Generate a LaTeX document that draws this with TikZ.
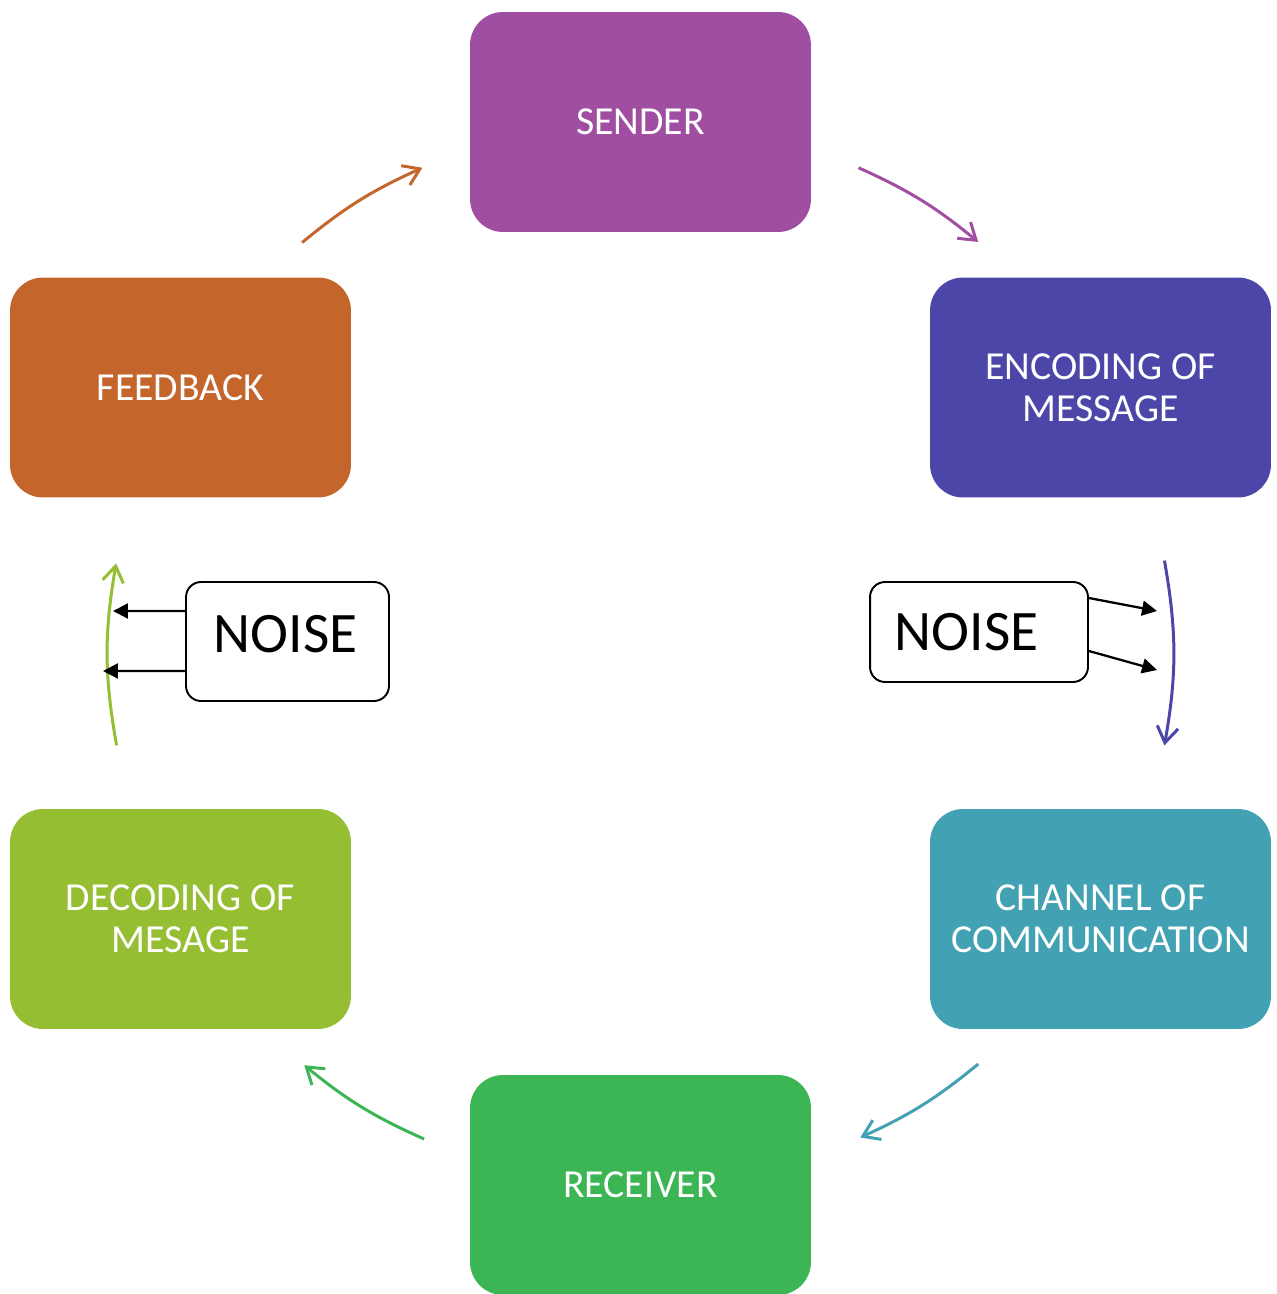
\documentclass[tikz,border=0pt]{standalone}
\usepackage{fontspec}
\setmainfont{Carlito}
\usepackage{tikz}
\usetikzlibrary{
  arrows.meta,
  positioning,
  calc
}
\definecolor{senderpurple}{HTML}{A04EA2}
\definecolor{encodeblue}{HTML}{4B46A8}
\definecolor{channelteal}{HTML}{42A1B2}
\definecolor{receivergreen}{HTML}{3CB554}
\definecolor{decodelime}{HTML}{95BE33}
\definecolor{feedbackorange}{HTML}{C4652C}
\tikzset{
  stage/.style={
    rectangle, fill=#1, rounded corners=0.66cm,
    minimum width=6.82cm, minimum height=4.4cm, inner sep=0pt,
    font=\fontsize{22.6}{24}\selectfont, text=white, align=center
  },
  noisebox/.style={
    rectangle, draw=black, fill=white, rounded corners=0.3cm,
    line width=1.1pt, inner sep=0pt,
    font=\fontsize{32.6}{36}\selectfont, text height=0.74cm, text depth=0cm
  },
  cyclearrow/.style={-{Straight Barb[length=9pt,width=12pt]}, draw=#1, line width=1.7pt},
  noisearrow/.style={-{Triangle[length=8.5pt,width=8.5pt]}, line width=1.3pt},
}

\begin{document}
\begin{tikzpicture}[x=0.02cm, y=0.02cm]
\useasboundingbox (0,0) rectangle (1277,-1294);

% Stages of the cycle (clockwise from the top)
\node[stage=senderpurple] (sender) at (640.5,-122) {SENDER};
\node[stage=encodeblue] (encode) at (1100.5,-387.5) {ENCODING OF\\MESSAGE};
\node[stage=channelteal] (channel) at (1100.5,-919) {CHANNEL OF\\COMMUNICATION};
\node[stage=receivergreen] (receiver) at (640.5,-1185) {RECEIVER};
\node[stage=decodelime] (decode) at (180.5,-919) {DECODING OF\\MESAGE};
\node[stage=feedbackorange] (feedback) at (180.5,-387.5) {FEEDBACK};

% Arrow ends on a circle round the centre
\coordinate (hub) at (640.5,-653);
\coordinate (sendA) at ($(hub)+(65.8:532)$);
\coordinate (sendB) at ($(hub)+(50.6:532)$);
\coordinate (encA) at ($(hub)+(10:532)$);
\coordinate (encB) at ($(hub)+(-10:532)$);
\coordinate (chanA) at ($(hub)+(-50.6:532)$);
\coordinate (chanB) at ($(hub)+(-65.6:532)$);
\coordinate (recA) at ($(hub)+(-114:532)$);
\coordinate (recB) at ($(hub)+(-129.2:532)$);
\coordinate (decA) at ($(hub)+(-170:532)$);
\coordinate (decB) at ($(hub)+(170.3:532)$);
\coordinate (fbA) at ($(hub)+(129.5:532)$);
\coordinate (fbB) at ($(hub)+(114.2:532)$);

\draw[cyclearrow=senderpurple] (sendA) to[bend left=7.6] (sendB);
\draw[cyclearrow=encodeblue] (encA) to[bend left=10] (encB);
\draw[cyclearrow=channelteal] (chanA) to[bend left=7.5] (chanB);
\draw[cyclearrow=receivergreen] (recA) to[bend left=7.6] (recB);
\draw[cyclearrow=decodelime] (decA) to[bend left=9.9] (decB);
\draw[cyclearrow=feedbackorange] (fbA) to[bend left=7.6] (fbB);

% Noise
\node[noisebox, minimum width=4.36cm, minimum height=2cm] (noiseR) at (979,-632) {NOISE\hspace*{0.5cm}};
\node[noisebox, minimum width=4.06cm, minimum height=2.38cm, text depth=0.32cm] (noiseL) at (287.5,-641.5) {NOISE\hspace*{0.08cm}};

\coordinate (hitR1) at (1157,-611);
\coordinate (hitR2) at (1157,-670);
\coordinate (hitL1) at (113,-611);
\coordinate (hitL2) at (103,-671);

\draw[noisearrow] ([yshift=0.68cm]noiseR.east) -- (hitR1);
\draw[noisearrow] ([yshift=-0.38cm]noiseR.east) -- (hitR2);
\draw[noisearrow] ([yshift=0.61cm]noiseL.west) -- (hitL1);
\draw[noisearrow] ([yshift=-0.59cm]noiseL.west) -- (hitL2);

\end{tikzpicture}
\end{document}
